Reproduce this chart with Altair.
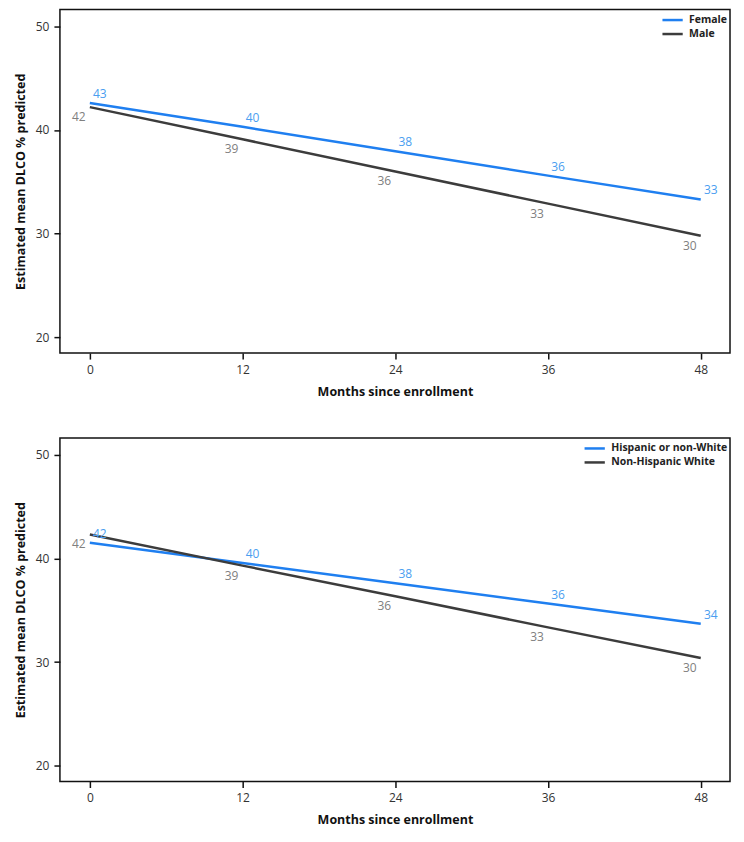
import altair as alt
import pandas as pd

months = [0, 12, 24, 36, 48]

# Panel 1: sex
sex_groups = ["Female", "Male"]
female_vals = [42.6, 40.3, 37.95, 35.6, 33.3]
male_vals = [42.2, 39.1, 36.0, 32.9, 29.8]
female_labels = ["43", "40", "38", "36", "33"]
male_labels = ["42", "39", "36", "33", "30"]

# Panel 2: race/ethnicity
race_groups = ["Hispanic or non-White", "Non-Hispanic White"]
hisp_vals = [41.5, 39.55, 37.6, 35.65, 33.7]
nhw_vals = [42.3, 39.3, 36.35, 33.35, 30.4]
hisp_labels = ["42", "40", "38", "36", "34"]
nhw_labels = ["42", "39", "36", "33", "30"]

y_ticks = [20, 30, 40, 50]
x_ticks = [0, 12, 24, 36, 48]

LINE_COLORS = ["#1f7ff0", "#3c3c3c"]
TEXT_COLORS = ["#4a9ef0", "#808080"]
FONT = "Open Sans"


def make_df(groups, vals_a, vals_b, labs_a, labs_b):
    rows = []
    for g, vals, labs in [(groups[0], vals_a, labs_a), (groups[1], vals_b, labs_b)]:
        for m, v, l in zip(months, vals, labs):
            rows.append({"month": m, "value": v, "group": g, "label": l})
    return pd.DataFrame(rows)


def panel(df, groups):
    x = alt.X("month:Q", scale=alt.Scale(domain=[-2.35, 50.3], nice=False, zero=False),
              axis=alt.Axis(values=x_ticks, title="Months since enrollment"))
    y = alt.Y("value:Q", scale=alt.Scale(domain=[18.5, 51.6], nice=False, zero=False),
              axis=alt.Axis(values=y_ticks, title="Estimated mean DLCO % predicted"))
    base = alt.Chart(df)
    lines = base.mark_line(strokeWidth=2.5).encode(
        x=x, y=y,
        color=alt.Color("group:N", sort=groups,
                        scale=alt.Scale(domain=groups, range=LINE_COLORS),
                        legend=alt.Legend(title=None, orient="top-right",
                                          symbolType="M-1.4,0H1.4",
                                          symbolStrokeWidth=2.5, symbolSize=210,
                                          labelFont=FONT, labelFontWeight="bold",
                                          labelFontSize=10.5, labelColor="#222",
                                          rowPadding=0, offset=2, padding=0,
                                          labelOffset=8)),
    )
    t_a = base.transform_filter(alt.datum.group == groups[0]).mark_text(
        dx=10, dy=-9, fontSize=12, font=FONT, color=TEXT_COLORS[0]
    ).encode(x=x, y=y, text="label:N")
    t_b = base.transform_filter(alt.datum.group == groups[1]).mark_text(
        dx=-11, dy=10, fontSize=12, font=FONT, color=TEXT_COLORS[1]
    ).encode(x=x, y=y, text="label:N")
    return alt.layer(lines, t_a, t_b).properties(width=671, height=344)


df1 = make_df(sex_groups, female_vals, male_vals, female_labels, male_labels)
df2 = make_df(race_groups, hisp_vals, nhw_vals, hisp_labels, nhw_labels)

chart = alt.vconcat(panel(df1, sex_groups), panel(df2, race_groups), spacing=38).resolve_scale(
    color="independent"
).configure_view(stroke="#111", strokeWidth=1.5).configure_axis(
    domain=False,
    ticks=True, tickColor="#111", tickSize=6, tickWidth=1.5,
    grid=False,
    labelFont=FONT, labelFontSize=12, labelColor="#333", labelPadding=5,
    titleFont=FONT, titleFontSize=12.5, titleFontWeight="bold", titleColor="#111",
).configure_axisY(titlePadding=8).configure_axisX(titlePadding=10).properties(
    padding={"left": 5, "top": 0, "right": 5, "bottom": 5}
)

chart.save("out.html", embed_options={"renderer": "svg", "actions": False})
